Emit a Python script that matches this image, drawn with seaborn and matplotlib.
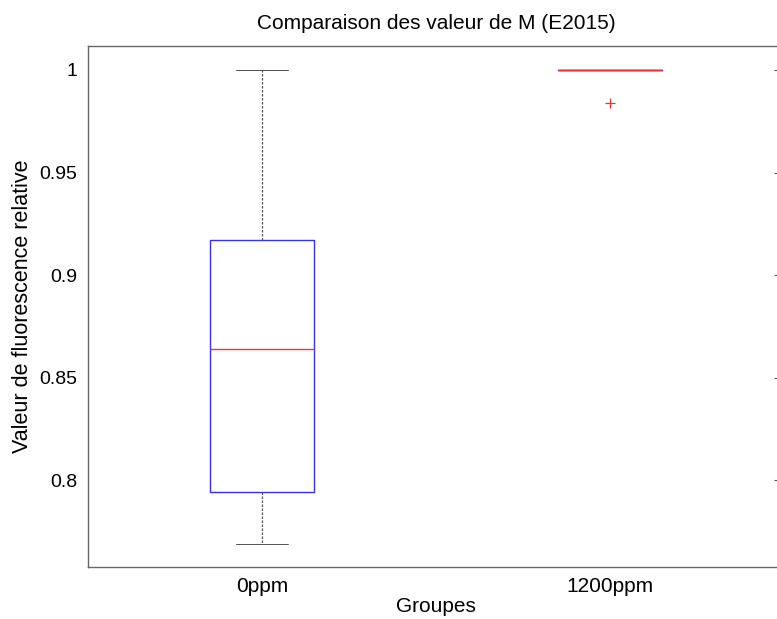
import matplotlib
matplotlib.use("Agg")
import matplotlib.pyplot as plt
from matplotlib.colors import to_hex
import seaborn as sns
import pandas as pd

# values
groups = ["0ppm", "1200ppm"]
vals_0ppm = [0.769, 0.794, 0.864, 0.917, 1.0]
vals_1200ppm = [1.0, 1.0, 1.0, 1.0, 0.984]
yticks = [0.8, 0.85, 0.9, 0.95, 1.0]
ytick_labels = ["0.8", "0.85", "0.9", "0.95", "1"]

MEDIAN_COLOR = "#ee3333"

df = pd.DataFrame(
    {
        "group": [groups[0]] * len(vals_0ppm) + [groups[1]] * len(vals_1200ppm),
        "value": vals_0ppm + vals_1200ppm,
    }
)

sns.set_style("white")
plt.rcParams["font.family"] = ["Liberation Sans", "DejaVu Sans"]
plt.rcParams["text.color"] = "black"
plt.rcParams["axes.labelcolor"] = "black"
plt.rcParams["xtick.color"] = "black"
plt.rcParams["ytick.color"] = "black"

fig = plt.figure(figsize=(7.77, 6.19), dpi=100)
ax = fig.add_axes([88 / 777, 52 / 619, (784 - 88) / 777, (567 - 46) / 619])

sns.boxplot(
    data=df,
    x="group",
    y="value",
    order=groups,
    width=0.3,
    whis=1.5,
    fill=False,
    linewidth=1.0,
    ax=ax,
    boxprops=dict(color="#3333ee", linewidth=1.0),
    medianprops=dict(color=MEDIAN_COLOR, linewidth=1.0),
    whiskerprops=dict(color="#555555", linewidth=0.9, linestyle=(0, (2, 1.2))),
    capprops=dict(color="#555555", linewidth=0.72),
    flierprops=dict(marker="+", markeredgecolor=MEDIAN_COLOR, markersize=7, markeredgewidth=0.9),
)

# medians on top of caps (1200ppm has zero spread, so hide caps that sit under a median)
med_lines = [l for l in ax.lines if to_hex(l.get_color()) == MEDIAN_COLOR and l.get_marker() in ("None", "", None)]
for line in ax.lines:
    if line in med_lines:
        line.set_zorder(10)
        continue
    yd = list(line.get_ydata())
    for m in med_lines:
        if len(yd) == 2 and yd[0] == yd[1] == m.get_ydata()[0] and abs(
            sum(line.get_xdata()) / 2 - sum(m.get_xdata()) / 2
        ) < 1e-9:
            line.set_visible(False)

ax.set_xlim(-0.5, 1.5)
ax.set_ylim(0.7576, 1.0117)
ax.set_yticks(yticks)
ax.set_yticklabels(ytick_labels)
ax.tick_params(axis="y", direction="in", length=7, width=0.8, color="#555555",
               labelsize=14, pad=8, right=True)
ax.tick_params(axis="x", length=0, labelsize=15, pad=7)

for s in ax.spines.values():
    s.set_visible(True)
    s.set_color("#666666")
    s.set_linewidth(1.0)

ax.set_title("Comparaison des valeur de M (E2015)", fontsize=15, pad=12)
ax.set_xlabel("Groupes", fontsize=15, labelpad=1)
ax.set_ylabel("Valeur de fluorescence relative", fontsize=15.5, labelpad=4)

fig.savefig("out.png", dpi=100)
